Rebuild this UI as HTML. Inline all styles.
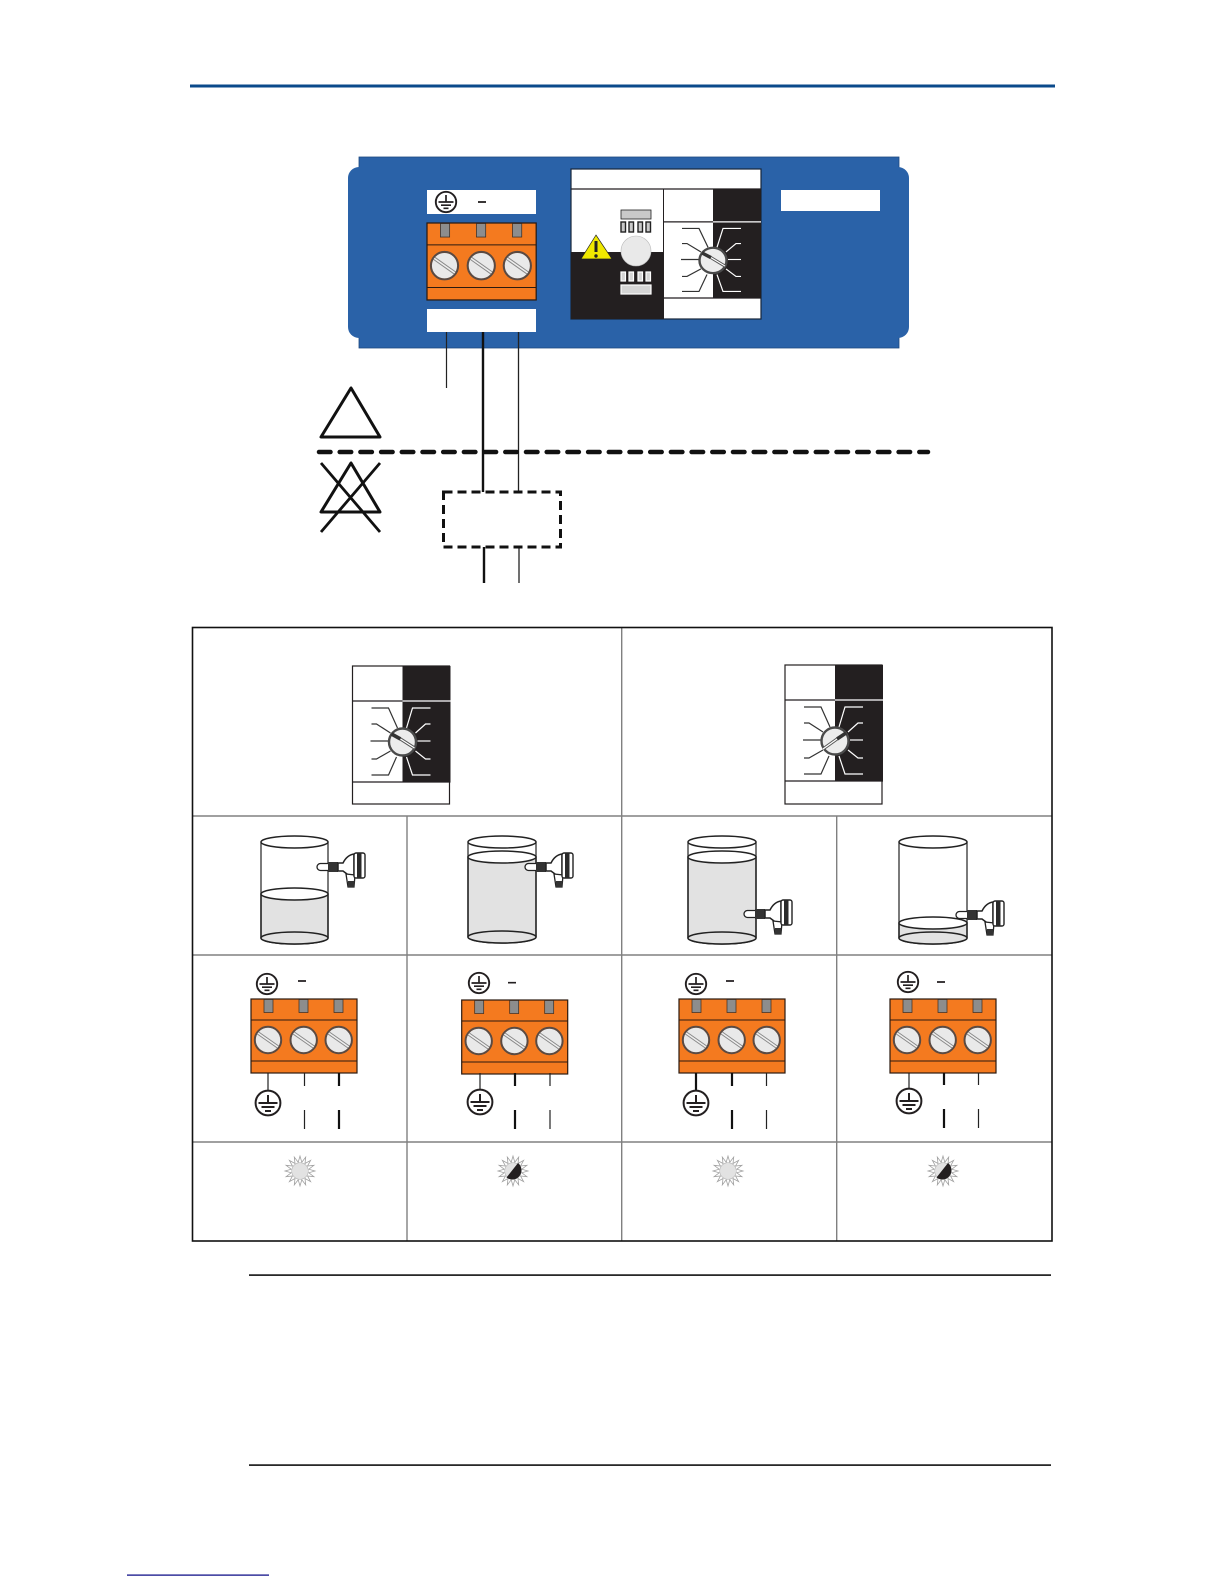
<!DOCTYPE html>
<html><head><meta charset="utf-8"><title>Diagram</title>
<style>html,body{margin:0;padding:0;background:#fff}svg{display:block}</style></head>
<body>
<svg xmlns="http://www.w3.org/2000/svg" width="1224" height="1584" viewBox="0 0 1224 1584">
<defs>
<g id="sw">
 <rect x="50" y="0" width="48" height="116" fill="#231f20"/>
 <path d="M0 35H98" stroke="#231f20" stroke-width="1.3" fill="none"/>
 <path d="M50 35H98" stroke="#fff" stroke-width="1.3" fill="none"/>
 <path d="M0 116H98" stroke="#231f20" stroke-width="1.3" fill="none"/>
 <g fill="none" stroke="#333" stroke-width="1.2">
  <path d="M19 42H36L45 62" /><path d="M19 58H24L38 67"/><path d="M18 75H36"/><path d="M19 93H24L38 85"/><path d="M19 109H36L44 91"/>
 </g>
 <g fill="none" stroke="#fff" stroke-width="1.2">
  <path d="M78 42H60L54 62"/><path d="M78 58H73L63 67"/><path d="M78 75H65"/><path d="M78 93H73L63 85"/><path d="M78 109H60L54 91"/>
 </g>
 <circle cx="50" cy="76" r="13.5" fill="#ececec" stroke="#4a4a4a" stroke-width="2.4"/>
</g>
<g id="kl"><path d="M39 68L48 73" stroke="#333" stroke-width="3.6" fill="none"/><path d="M48 73L62 82" stroke="#555" stroke-width="3.2" fill="none"/><path d="M48 73L62 82" stroke="#fff" stroke-width="1.2" fill="none"/></g>
<g id="kr"><path d="M61 68L52 74" stroke="#333" stroke-width="3.6" fill="none"/><path d="M52 74L38 84" stroke="#555" stroke-width="3.2" fill="none"/><path d="M52 74L38 84" stroke="#fff" stroke-width="1.2" fill="none"/></g>
<g id="screw">
 <circle r="13.2" fill="#e9e9e9" stroke="#5b4a42" stroke-width="2"/>
 <path d="M-10 -7L10 7" stroke="#888" stroke-width="3.4" fill="none"/>
 <path d="M-10 -7L10 7" stroke="#eee" stroke-width="1.5" fill="none"/>
</g>
<g id="term">
 <rect x="0" y="0" width="106" height="74" fill="#f47a1f" stroke="#2b1a10" stroke-width="1.2"/>
 <path d="M0 21H106M0 62H106" stroke="#2b1a10" stroke-width="1" fill="none"/>
 <g fill="#8d8d8d" stroke="#3a2a20" stroke-width=".7"><rect x="13" y="0.5" width="9" height="13"/><rect x="48" y="0.5" width="9" height="13"/><rect x="83" y="0.5" width="9" height="13"/></g>
 <use href="#screw" x="17" y="41"/><use href="#screw" x="52.7" y="41"/><use href="#screw" x="87.7" y="41"/>
</g>
<g id="es">
 <circle r="10.2" fill="#fff" stroke="#231f20" stroke-width="1.9"/>
 <path d="M0 -7V0M-7.5 0H7.5M-5 3.2H5M-2.5 6.3H2.5" stroke="#231f20" stroke-width="1.7" fill="none"/>
</g>
<g id="el">
 <circle r="12.4" fill="#fff" stroke="#231f20" stroke-width="2"/>
 <path d="M0 -8V0M-9.5 0H9.5M-6.5 4H6.5M-3 8H3" stroke="#231f20" stroke-width="2" fill="none"/>
</g>
<g id="sensor">
 <rect x="0" y="-3.5" width="18" height="7" rx="3.5" fill="#fff" stroke="#222" stroke-width="1.3"/>
 <rect x="11" y="-5" width="10" height="10" fill="#333"/>
 <path d="M21 -4H26Q30 -12 37 -13V10Q33 10 30 7L26 4H21Z" fill="#fff" stroke="#222" stroke-width="1.5"/>
 <path d="M29 7L38 8L37 20H31Z" fill="#fff" stroke="#222" stroke-width="1.3"/>
 <rect x="31" y="14" width="6.5" height="6" fill="#333"/>
 <rect x="37" y="-14" width="11" height="25" rx="2" fill="#fff" stroke="#222" stroke-width="1.4"/>
 <rect x="40" y="-14" width="4.5" height="25" fill="#2a2a2a"/>
</g>
<g id="sun">
 <polygon points="15,0 8.8,1.8 13.9,5.7 7.5,5 10.6,10.6 5,7.5 5.7,13.9 1.8,8.8 0,15 -1.8,8.8 -5.7,13.9 -5,7.5 -10.6,10.6 -7.5,5 -13.9,5.7 -8.8,1.8 -15,0 -8.8,-1.8 -13.9,-5.7 -7.5,-5 -10.6,-10.6 -5,-7.5 -5.7,-13.9 -1.8,-8.8 0,-15 1.8,-8.8 5.7,-13.9 5,-7.5 10.6,-10.6 7.5,-5 13.9,-5.7 8.8,-1.8" fill="#fff" stroke="#a0a0a0" stroke-width=".8"/>
 <circle r="8.3" fill="#e2e2e2" stroke="#b5b5b5" stroke-width=".6"/>
</g>
<path id="half" d="M5 -8A9 9 0 0 1 -6.5 6.5Z" fill="#231f20"/>
</defs>

<!-- header rule -->
<rect x="190" y="84.5" width="865" height="3" fill="#0b4a8b"/>

<!-- blue panel -->
<rect x="359" y="157" width="540" height="191" fill="#2a62a8" stroke="#1e4a80" stroke-width=".8"/>
<rect x="348" y="167" width="561" height="171" rx="11" fill="#2a62a8"/>
<rect x="427" y="190" width="109" height="24" fill="#fff"/>
<use href="#es" x="446" y="202"/>
<path d="M478 202H486" stroke="#231f20" stroke-width="1.8"/>
<use href="#term" transform="translate(427,223) scale(1.03,1.04)"/>
<rect x="427" y="309" width="109" height="23" fill="#fff"/>
<rect x="781" y="190" width="99" height="21" fill="#fff"/>

<!-- control panel -->
<rect x="571" y="169" width="190" height="150" fill="#fff" stroke="#17263a" stroke-width="1.2"/>
<rect x="571" y="252" width="93" height="67" fill="#231f20"/>
<path d="M571 189H761" stroke="#231f20" stroke-width="1.3"/>
<path d="M663.5 189V319" stroke="#231f20" stroke-width="1"/>
<use href="#sw" transform="translate(663,189) scale(1,.94)"/>
<use href="#kl" transform="translate(663,189) scale(1,.94)"/>
<polygon points="596,235 581,259 612,259" fill="#efe800" stroke="#222" stroke-width=".7"/>
<path d="M596 241V252" stroke="#222" stroke-width="3"/>
<circle cx="596" cy="256" r="1.7" fill="#222"/>
<circle cx="636" cy="251" r="15" fill="#e9e9e9" stroke="#bbb" stroke-width=".6"/>
<rect x="621" y="210" width="30" height="9" fill="#c9c9c9" stroke="#222" stroke-width=".8"/>
<g fill="#c9c9c9" stroke="#222" stroke-width="1.4"><rect x="621" y="222" width="4.5" height="10"/><rect x="629" y="222" width="4.5" height="10"/><rect x="638" y="222" width="4.5" height="10"/><rect x="646" y="222" width="4.5" height="10"/></g>
<g fill="#d5d5d5" stroke="#fff" stroke-width="1.2"><rect x="621" y="272" width="4.5" height="9"/><rect x="629" y="272" width="4.5" height="9"/><rect x="638" y="272" width="4.5" height="9"/><rect x="646" y="272" width="4.5" height="9"/><rect x="621" y="285" width="30" height="9"/></g>

<!-- wiring -->
<path d="M446.5 332V388" stroke="#222" stroke-width="1.2"/>
<path d="M483 332V492" stroke="#111" stroke-width="2.4"/>
<path d="M518.5 332V492" stroke="#222" stroke-width="1.3"/>
<path d="M484 547V583" stroke="#111" stroke-width="2.4"/>
<path d="M519 547V583" stroke="#222" stroke-width="1.3"/>
<path d="M319 452H928" stroke="#111" stroke-width="4.5" stroke-dasharray="11.5 9.2" stroke-linecap="round" fill="none"/>
<rect x="443.5" y="492" width="117" height="55" fill="none" stroke="#111" stroke-width="3" stroke-dasharray="9 5"/>
<polygon points="351,388 321,437 380,437" fill="none" stroke="#111" stroke-width="3" stroke-linejoin="round"/>
<polygon points="351,463 321,512 380,512" fill="none" stroke="#111" stroke-width="3" stroke-linejoin="round"/>
<path d="M321 463L380 532M380 463L321 532" stroke="#111" stroke-width="2.8" fill="none"/>

<!-- table -->
<g stroke="#808080" stroke-width="1.4" fill="none">
 <path d="M192 816H1052M192 955H1052M192 1142H1052"/>
 <path d="M621.7 627V1241M407 816V1241M836.7 816V1241"/>
</g>
<rect x="192.5" y="627.5" width="859.5" height="613.5" fill="none" stroke="#111" stroke-width="1.6"/>

<!-- switches -->
<g transform="translate(352.5,666)"><rect width="97" height="138" fill="#fff" stroke="#231f20" stroke-width="1.2"/><use href="#sw"/><use href="#kl"/></g>
<g transform="translate(785,665)"><rect width="97" height="139" fill="#fff" stroke="#231f20" stroke-width="1.2"/><use href="#sw"/><use href="#kr"/></g>

<!-- tanks -->
<g stroke="#222" stroke-width="1.5">
 <!-- 1 -->
 <path d="M261 894V938A33.5 6 0 0 0 328 938V894Z" fill="#e2e2e2"/>
 <path d="M261 842V938M328 842V938" fill="none" stroke-width="1.2"/>
 <ellipse cx="294.5" cy="842" rx="33.5" ry="6" fill="#fff"/>
 <ellipse cx="294.5" cy="894" rx="33.5" ry="6" fill="#fff"/>
 <ellipse cx="294.5" cy="938" rx="33.5" ry="6" fill="#e2e2e2"/>
 <!-- 2 -->
 <path d="M468 857V937A34 6 0 0 0 536 937V857Z" fill="#e2e2e2"/>
 <path d="M468 842V937M536 842V937" fill="none" stroke-width="1.2"/>
 <ellipse cx="502" cy="842" rx="34" ry="6" fill="#fff"/>
 <ellipse cx="502" cy="857" rx="34" ry="6" fill="#fff"/>
 <ellipse cx="502" cy="937" rx="34" ry="6" fill="#e2e2e2"/>
 <!-- 3 -->
 <path d="M688 857V938A34 6 0 0 0 756 938V857Z" fill="#e2e2e2"/>
 <path d="M688 842V938M756 842V938" fill="none" stroke-width="1.2"/>
 <ellipse cx="722" cy="842" rx="34" ry="6" fill="#fff"/>
 <ellipse cx="722" cy="857" rx="34" ry="6" fill="#fff"/>
 <ellipse cx="722" cy="938" rx="34" ry="6" fill="#e2e2e2"/>
 <!-- 4 -->
 <path d="M899 923V938A34 6 0 0 0 967 938V923Z" fill="#e2e2e2"/>
 <path d="M899 842V938M967 842V938" fill="none" stroke-width="1.2"/>
 <ellipse cx="933" cy="842" rx="34" ry="6" fill="#fff"/>
 <ellipse cx="933" cy="923" rx="34" ry="6" fill="#fff"/>
 <ellipse cx="933" cy="938" rx="34" ry="6" fill="#e2e2e2"/>
</g>
<use href="#sensor" x="317" y="867"/><use href="#sensor" x="525" y="867"/><use href="#sensor" x="744" y="914"/><use href="#sensor" x="956" y="915"/>

<!-- terminals in table -->
<use href="#term" x="251" y="999"/><use href="#term" x="461.7" y="1000"/><use href="#term" x="679" y="999"/><use href="#term" x="890" y="999"/>
<use href="#es" x="267" y="984"/><use href="#es" x="479" y="983"/><use href="#es" x="696" y="984"/><use href="#es" x="908" y="982"/>
<g stroke="#231f20" stroke-width="1.7" fill="none"><path d="M298 981H306M508 982.7H516M726 981H734M937 982H945"/></g>
<g stroke="#222" stroke-width="1.2" fill="none">
 <path d="M268 1073V1092M304.5 1073V1086M304.5 1110V1129M480 1073V1092M550 1073V1086M550 1110V1129M766.5 1073V1086M766.5 1110V1129M909 1073V1092M978.5 1073V1085M978.5 1109V1128"/>
</g>
<g stroke="#111" stroke-width="2.2" fill="none">
 <path d="M339 1073V1086M339 1110V1129M515 1073V1086M515 1110V1129M696 1073V1092M732 1073V1086M732 1110V1129M944 1073V1085M944 1109V1128"/>
</g>
<use href="#el" x="268" y="1103"/><use href="#el" x="480" y="1102"/><use href="#el" x="696" y="1103"/><use href="#el" x="909" y="1101"/>

<!-- suns -->
<use href="#sun" x="300" y="1171"/>
<g transform="translate(513,1171)"><use href="#sun"/><use href="#half"/></g>
<use href="#sun" x="728" y="1171"/>
<g transform="translate(943,1171)"><use href="#sun"/><use href="#half"/></g>

<!-- lower rules -->
<rect x="249" y="1274.3" width="802" height="1.6" fill="#111"/>
<rect x="249" y="1464.3" width="802" height="1.6" fill="#111"/>
<rect x="127" y="1574.5" width="142" height="1.2" fill="#000080"/>
</svg>
</body></html>
